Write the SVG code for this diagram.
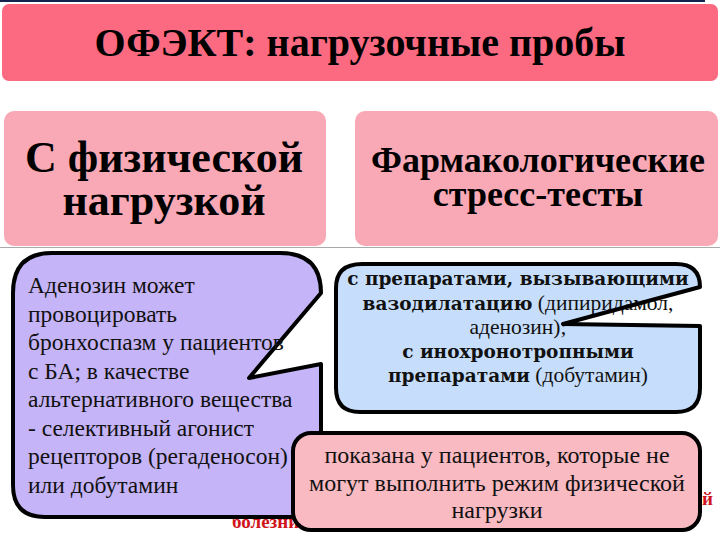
<svg xmlns="http://www.w3.org/2000/svg" width="720" height="540" viewBox="0 0 720 540">
<style>
.serif{font-family:"Liberation Serif","Times New Roman",serif}
.hdr{font-weight:bold;fill:#000;text-anchor:middle}
.body{font-size:23.5px;fill:#111}
.note{font-size:24px;fill:#111;text-anchor:middle}
.blue{font-size:21.5px;fill:#111;text-anchor:middle}
.b{font-family:"DejaVu Serif",serif;font-weight:bold;font-size:18.5px}
.red{font-weight:bold;font-size:19px;fill:#d0141c}
.bubble{stroke:#000;stroke-width:4;stroke-linejoin:round}
</style>
<defs>
<path id="blueShape" d="M362,264 H676 Q700,264 700,287 L563,324 L700,326 V388 Q700,412 676,412 H360 Q336,412 336,388 V288 Q336,264 362,264 Z"/>
</defs>
<rect x="0" y="0" width="720" height="540" fill="#fff"/>
<rect x="0" y="0" width="705" height="2" fill="#14224f"/>
<line x1="0" y1="247.5" x2="720" y2="247.5" stroke="#aaa" stroke-width="1"/>
<g id="title" class="serif">
<rect x="2" y="4" width="716" height="77" rx="7" fill="#fb6a80"/>
<text class="hdr" x="360" y="56" font-size="40">ОФЭКТ: нагрузочные пробы</text>
</g>
<g id="physical" class="serif">
<rect x="4" y="111" width="322" height="135" rx="10" fill="#f9a9b5"/>
<text class="hdr" x="164" y="172" font-size="44">С физической</text>
<text class="hdr" x="164" y="215" font-size="44">нагрузкой</text>
</g>
<g id="pharm" class="serif">
<rect x="355" y="111" width="363" height="135" rx="10" fill="#f9a9b5"/>
<text class="hdr" x="538" y="172" font-size="36">Фармакологические</text>
<text class="hdr" x="538" y="206" font-size="36">стресс-тесты</text>
</g>
<g class="serif">
<text class="red" x="232" y="528">болезни</text>
<text class="red" x="702" y="505">й</text>
</g>
<g id="adenosine" class="serif">
<path class="bubble" fill="#c6b4f8" d="M52,253 H280 Q321,253 321,293 L249,378 L321,364 V485 Q321,517 290,517 H45 Q13,517 13,485 V293 Q13,253 52,253 Z"/>
<text class="body" x="28" y="293">Аденозин может</text>
<text class="body" x="28" y="321.5">провоцировать</text>
<text class="body" x="28" y="350">бронхоспазм у пациентов</text>
<text class="body" x="28" y="378.5">с БА; в качестве</text>
<text class="body" x="28" y="407">альтернативного вещества</text>
<text class="body" x="28" y="435.5">- селективный агонист</text>
<text class="body" x="28" y="464">рецепторов (регаденосон)</text>
<text class="body" x="28" y="493">или добутамин</text>
</g>
<g id="vasodilation" class="serif">
<use href="#blueShape" fill="#c6defb"/>
<text class="blue" x="518" y="285"><tspan class="b">с препаратами, вызывающими</tspan></text>
<text class="blue" x="518" y="310"><tspan class="b">вазодилатацию</tspan> (дипиридамол,</text>
<text class="blue" x="518" y="334">аденозин);</text>
<text class="blue" x="518" y="358"><tspan class="b">с инохронотропными</tspan></text>
<text class="blue" x="518" y="382"><tspan class="b">препаратами</tspan> (добутамин)</text>
<use href="#blueShape" class="bubble" fill="none"/>
</g>
<g id="indication" class="serif">
<rect class="bubble" x="293" y="433" width="407" height="97" rx="18" fill="#f9bac2"/>
<text class="note" x="497" y="463">показана у пациентов, которые не</text>
<text class="note" x="497" y="491">могут выполнить режим физической</text>
<text class="note" x="497" y="518">нагрузки</text>
</g>
</svg>
